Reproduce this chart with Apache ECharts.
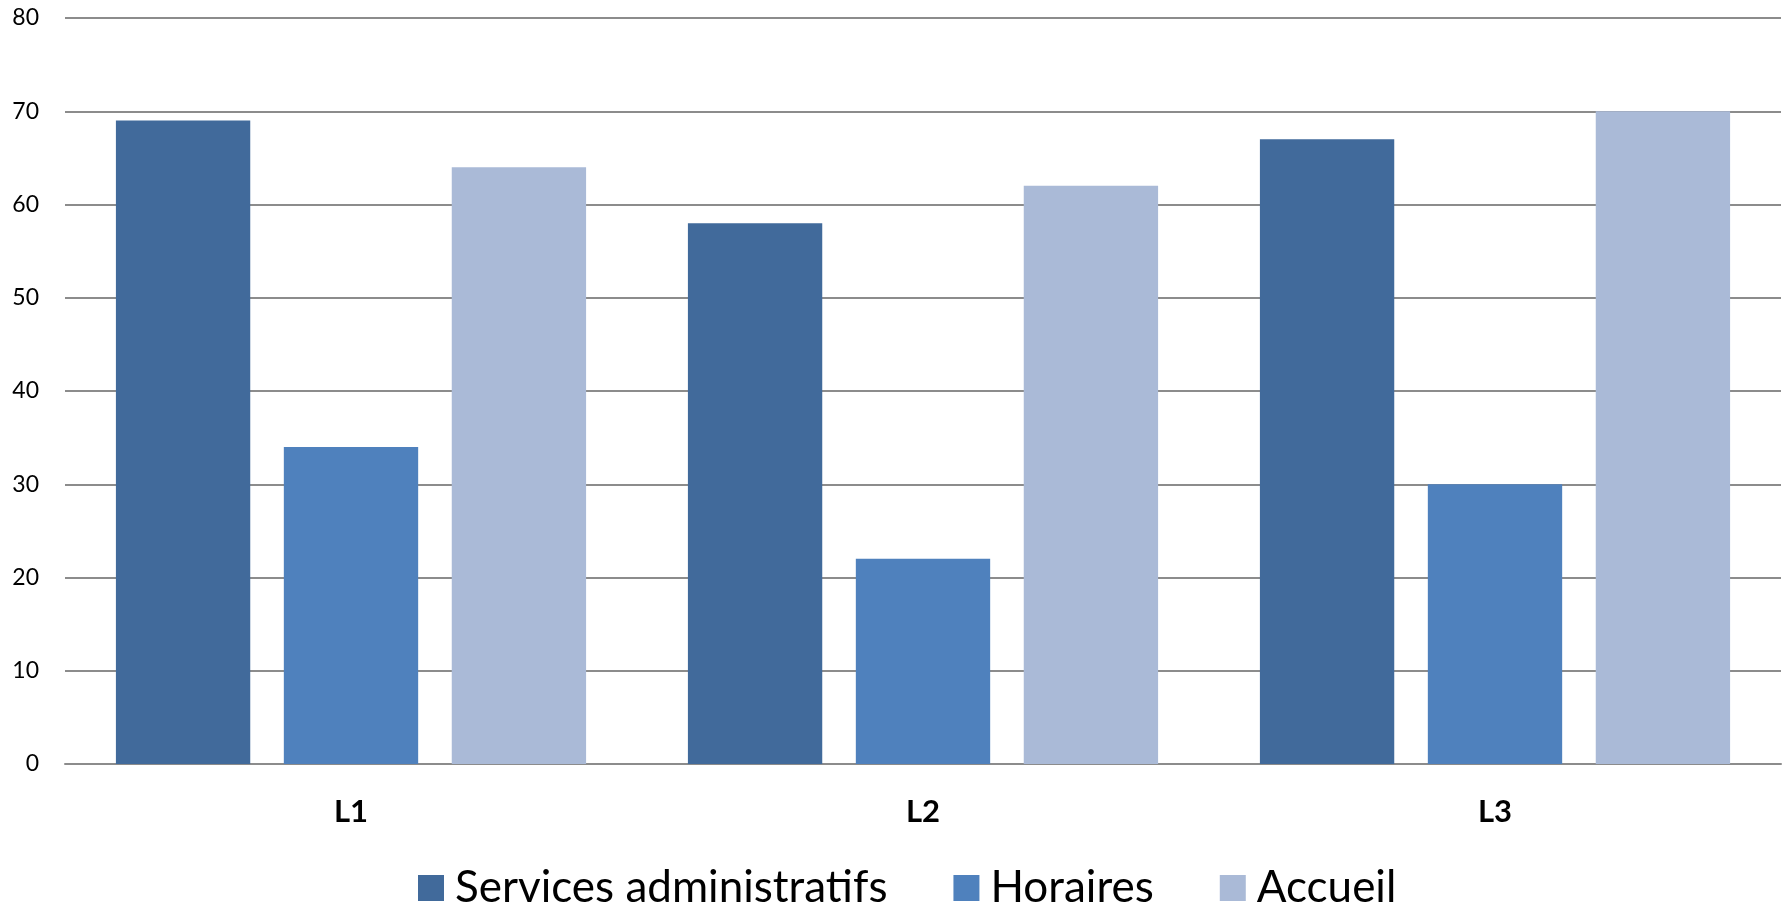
<!DOCTYPE html>
<html>
<head>
<meta charset="utf-8">
<script src="https://cdn.jsdelivr.net/npm/echarts@6/dist/echarts.min.js"></script>
<style>
  html, body { margin: 0; padding: 0; background: #fff; }
  #main { width: 1791px; height: 907px; }
</style>
</head>
<body>
<div id="main"></div>
<script>
// data
const categories = ['L1', 'L2', 'L3'];
const seriesNames = ['Services administratifs', 'Horaires', 'Accueil'];
const servicesValues = [69, 58, 67];
const horairesValues = [34, 22, 30];
const accueilValues = [64, 62, 70];
const colors = ['#416a9b', '#4f81bd', '#aabad7'];

const font = 'Lato, "Liberation Sans", sans-serif';

let chart = echarts.init(document.getElementById('main'));

let option = {
  animation: false,
  color: colors,
  grid: { left: 65, right: 10, top: 18, bottom: 143 },
  legend: {
    data: seriesNames,
    left: 413,
    bottom: -8,
    itemWidth: 26,
    itemHeight: 26,
    itemGap: 66,
    icon: 'rect',
    textStyle: { fontFamily: font, fontSize: 44, color: '#000', padding: [0, 0, 0, 6] }
  },
  xAxis: {
    type: 'category',
    data: categories,
    axisLine: { lineStyle: { color: '#8c8c8c', width: 2 } },
    axisTick: { show: false },
    axisLabel: { fontFamily: font, fontSize: 31, fontWeight: 'bold', color: '#000', margin: 32 }
  },
  yAxis: {
    type: 'value',
    min: 0,
    max: 80,
    interval: 10,
    axisLine: { show: false },
    axisTick: { show: false },
    axisLabel: { fontFamily: font, fontSize: 23, color: '#000', margin: 26 },
    splitLine: { lineStyle: { color: '#8c8c8c', width: 2 } }
  },
  series: [
    { name: seriesNames[0], type: 'bar', data: servicesValues, barGap: '25%', barCategoryGap: '17.8%' },
    { name: seriesNames[1], type: 'bar', data: horairesValues },
    { name: seriesNames[2], type: 'bar', data: accueilValues }
  ]
};

chart.setOption(option);
</script>
</body>
</html>
